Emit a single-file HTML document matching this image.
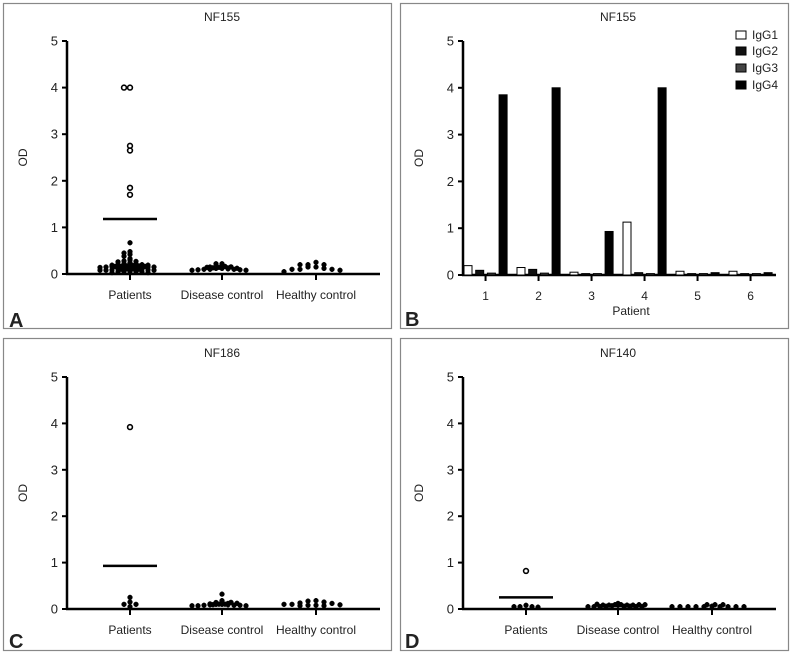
<!DOCTYPE html>
<html><head><meta charset="utf-8">
<style>
body{margin:0;background:#fff;}
svg{display:block;font-family:"Liberation Sans",sans-serif;}
text{fill:#222;}
</style></head>
<body>
<svg id="fig" width="792" height="654" viewBox="0 0 792 654" xmlns="http://www.w3.org/2000/svg"></svg>
<script>
// ---- Data ----
const scatterCats = ["Patients","Disease control","Healthy control"];
const yTicks = [0,1,2,3,4,5];
// Panel A (NF155)
const aPatientsFilled = [0.67,0.48,0.45,0.42,0.38,0.33,0.3,0.28,0.27,0.26,0.24,0.22,0.21,0.2,0.2,0.19,0.19,0.18,0.18,0.17,0.17,0.16,0.16,0.15,0.15,0.15,0.14,0.14,0.13,0.13,0.12,0.12,0.12,0.11,0.11,0.1,0.1,0.1,0.09,0.09,0.08,0.08,0.08,0.07,0.07,0.06,0.06,0.05,0.05,0.05,0.04,0.04,0.03,0.03];
const aPatientsOpen = [4.0,4.0,2.75,2.65,1.85,1.7];
const aDisease = [0.22,0.22,0.12,0.12,0.11,0.1,0.1,0.1,0.09,0.09,0.08,0.08,0.12,0.13,0.15,0.1,0.11,0.09,0.08,0.1];
const aHealthy = [0.25,0.2,0.2,0.2,0.15,0.15,0.12,0.1,0.1,0.1,0.08,0.05];
const aMean = 1.18;
// Panel C (NF186)
const cPatientsFilled = [0.25,0.15,0.1,0.1,0.05];
const cPatientsOpen = [3.92];
const cDisease = [0.32,0.18,0.14,0.12,0.1,0.1,0.09,0.09,0.08,0.08,0.08,0.07,0.07,0.07,0.06,0.06,0.1,0.11,0.05,0.08];
const cHealthy = [0.18,0.17,0.15,0.13,0.12,0.1,0.09,0.08,0.08,0.07,0.07,0.1];
const cMean = 0.93;
// Panel D (NF140)
const dPatientsFilled = [0.08,0.05,0.05,0.05,0.04];
const dPatientsOpen = [0.82];
const dDisease = [0.12,0.08,0.07,0.06,0.06,0.06,0.05,0.05,0.05,0.05,0.05,0.05,0.05,0.04,0.04,0.04,0.04,0.05,0.06,0.05];
const dHealthy = [0.06,0.05,0.05,0.05,0.05,0.05,0.05,0.05,0.05,0.05,0.05,0.05,0.05];
const dMean = 0.25;
// Panel B (NF155 IgG subclasses)
const bPatients = ["1","2","3","4","5","6"];
const bSeries = ["IgG1","IgG2","IgG3","IgG4"];
const bIgG1 = [0.2,0.16,0.06,1.13,0.08,0.08];
const bIgG2 = [0.1,0.12,0.03,0.05,0.03,0.03];
const bIgG3 = [0.04,0.04,0.03,0.03,0.03,0.03];
const bIgG4 = [3.85,4.0,0.93,4.0,0.05,0.05];

const NS="http://www.w3.org/2000/svg";
const svg=document.getElementById('fig');
function el(tag,attrs,parent,txt){const e=document.createElementNS(NS,tag);for(const k in attrs)e.setAttribute(k,attrs[k]);if(txt!==undefined)e.textContent=txt;(parent||svg).appendChild(e);return e;}

function frame(x,y,w,h,name){
  const r=el('rect',{x:x,y:y,width:w,height:h,fill:'none',stroke:'#888','stroke-width':1.2});
  
  
}
function axesY(g,x0,y0,y5,xEnd){
  const yS=v=>y0-(y0-y5)*v/5;
  const ya=el('line',{x1:x0,y1:y5,x2:x0,y2:y0+1,stroke:'#000','stroke-width':2.5},g);
  
  
  const xa=el('line',{x1:x0-1,y1:y0,x2:xEnd,y2:y0,stroke:'#000','stroke-width':2.5},g);
  
  
  yTicks.forEach(t=>{
    el('line',{x1:x0-5,y1:yS(t),x2:x0,y2:yS(t),stroke:'#000','stroke-width':2},g);
    const tl=el('text',{x:x0-9,y:yS(t)+4.5,'text-anchor':'end','font-size':13},g,String(t));
    
    
  });
  const yt=el('text',{x:0,y:0,'text-anchor':'middle','font-size':12,transform:`translate(${x0-40},${(y0+y5)/2}) rotate(-90)`},g,'OD');
  
  
  return yS;
}
function swarm(g,cx,vals,yS,open,name,binH,sp){
  const bins={};
  vals.forEach(v=>{
    const py=yS(v);const b=Math.round(py/binH);
    const n=bins[b]||0;bins[b]=n+1;
    const k=n%10;
    const row=Math.floor(n/10);
    const off=(k%2===0?1:-1)*Math.ceil(k/2)*sp+(row%2?3:0);
    const c=el('circle',{cx:cx+off,cy:py-row*2,r:2.4,fill:open?'#fff':'#000',stroke:'#000','stroke-width':open?1.6:0.5},g);
    
    
  });
}
function scatterPanel(ox,oy,y0,y5,title,letter,groups,mean){
  const g=el('g',{transform:`translate(${ox},${oy})`});
  
  
  const t=el('text',{x:222,y:y5-20,'text-anchor':'middle','font-size':12},g,title);
  
  
  const yS=axesY(g,67,y0,y5,380);
  const cxs=[130,222,316];
  scatterCats.forEach((c,i)=>{
    el('line',{x1:cxs[i],y1:y0,x2:cxs[i],y2:y0+6,stroke:'#000','stroke-width':2},g);
    const l=el('text',{x:cxs[i],y:y0+25,'text-anchor':'middle','font-size':12},g,c);
    
    
  });
  swarm(g,cxs[0],groups[0],yS,false,'patient-point',3,6);
  swarm(g,cxs[0],groups[1],yS,true,'patient-positive-point',3,6);
  swarm(g,cxs[1],groups[2],yS,false,'disease-control-point',8,6);
  swarm(g,cxs[2],groups[3],yS,false,'healthy-control-point',10,8);
  const m=el('line',{x1:cxs[0]-27,y1:yS(mean),x2:cxs[0]+27,y2:yS(mean),stroke:'#000','stroke-width':2.5},g);
  
  
  const L=el('text',{x:9,y:y0+(letter==='A'||letter==='B'?53:39),'font-size':20,'font-weight':'bold'},g,letter);
  
  
}

frame(3.5,3.5,388,325,'panel-a-frame');
frame(400.5,3.5,388,325,'panel-b-frame');
frame(3.5,338.5,388,312,'panel-c-frame');
frame(400.5,338.5,388,312,'panel-d-frame');

scatterPanel(0,0,274,41,'NF155','A',[aPatientsFilled,aPatientsOpen,aDisease,aHealthy],aMean);
scatterPanel(0,0,609,377,'NF186','C',[cPatientsFilled,cPatientsOpen,cDisease,cHealthy],cMean);
scatterPanel(396,0,609,377,'NF140','D',[dPatientsFilled,dPatientsOpen,dDisease,dHealthy],dMean);

// Panel B bars
(function(){
  const ox=396,y0=275,y5=41;
  const g=el('g',{transform:`translate(${ox},0)`});
  
  
  const t=el('text',{x:222,y:21,'text-anchor':'middle','font-size':12},g,'NF155');
  
  
  const yS=axesY(g,67,y0,y5,380);
  const series=[bIgG1,bIgG2,bIgG3,bIgG4];
  const fills=['#fff','#111','#444','#000'];
  const groupW=53,start=68,step=11.7,bw=8;
  bPatients.forEach((p,i)=>{
    const gx=start+i*groupW;
    series.forEach((s,j)=>{
      const top=yS(s[i]);
      const r=el('rect',{x:gx+j*step,y:top,width:bw,height:y0-top,fill:fills[j],stroke:'#000','stroke-width':1},g);
      
      
    });
    const cx=gx+(3*step+bw)/2;
    el('line',{x1:cx,y1:y0,x2:cx,y2:y0+6,stroke:'#000','stroke-width':2},g);
    const l=el('text',{x:cx,y:y0+25,'text-anchor':'middle','font-size':12},g,p);
    
    
  });
  const xt=el('text',{x:235,y:315,'text-anchor':'middle','font-size':12},g,'Patient');
  
  
  const ly=[35,51,68,85];
  bSeries.forEach((s,j)=>{
    const sw=el('rect',{x:340,y:ly[j]-4,width:10,height:8,fill:fills[j],stroke:'#000','stroke-width':1},g);
    
    
    const lt=el('text',{x:356,y:ly[j]+4,'font-size':12},g,s);
    
    
  });
  const L=el('text',{x:9,y:328-2,'font-size':20,'font-weight':'bold'},g,'B');
  
  
})();
</script>
</body></html>
